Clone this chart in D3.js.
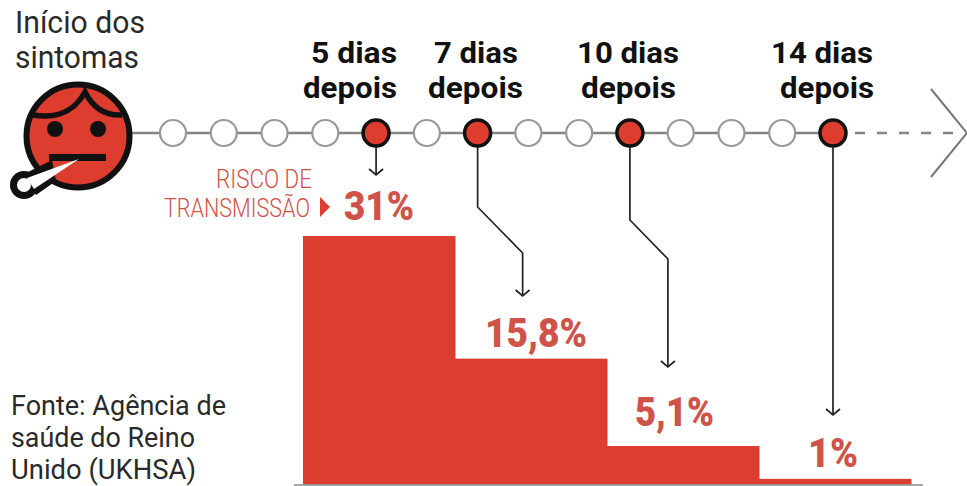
<!DOCTYPE html>
<html><head><meta charset="utf-8">
<script src="https://cdn.jsdelivr.net/npm/d3@7"></script>
<style>html,body{margin:0;background:#fff}svg{display:block}</style></head>
<body><svg id="c" width="967" height="486"></svg>
<script>
const allDays = [1,2,3,4,5,6,7,8,9,10,11,12,13,14];
const keyDays = [5,7,10,14];
const dayLabels = ["5 dias","7 dias","10 dias","14 dias"];
const riskLabels = ["31%","15,8%","5,1%","1%"];
const barValues = [31,15.7,4.8,0.7];
const sourceLines = ["Fonte: Agência de","saúde do Reino","Unido (UKHSA)"];
const red="#dc3d2f", ink="#111", grey="#858585", txtRed="#cf5348";
const svg=d3.select("#c");
const x=d3.scaleLinear().domain([1,14]).range([173,833]);
const yT=133;
const bx=d3.scaleBand().domain(keyDays).range([303,911]);
const y=d3.scaleLinear().domain([0,31]).range([484.5,236]);

function txt(s,px,py,size,weight,fill,len){
  const t=svg.append("text").attr("x",px).attr("y",py).attr("font-size",size).attr("font-weight",weight)
   .attr("fill",fill).attr("font-family","Roboto, sans-serif").text(s);
  if(len){t.attr("textLength",len).attr("lengthAdjust","spacingAndGlyphs");}
  return t;
}
// bars
svg.selectAll("rect.bar").data(keyDays).join("rect").attr("class","bar")
 .attr("x",d=>bx(d)).attr("width",bx.bandwidth()+.5)
 .attr("y",(d,i)=>y(barValues[i])).attr("height",(d,i)=>y(0)-y(barValues[i])).attr("fill",red);
svg.append("line").attr("x1",294).attr("x2",923).attr("y1",485).attr("y2",485).attr("stroke","#8a8a8a").attr("stroke-width",1.5);

// timeline
svg.append("line").attr("x1",125).attr("x2",x(14)).attr("y1",yT).attr("y2",yT).attr("stroke",grey).attr("stroke-width",2.5);
svg.append("line").attr("x1",855).attr("x2",960).attr("y1",yT).attr("y2",yT).attr("stroke",grey).attr("stroke-width",2.5).attr("stroke-dasharray","10 12");
svg.append("path").attr("d","M931,89L967,133L931,177").attr("fill","none").attr("stroke","#777").attr("stroke-width",2);
svg.selectAll("circle.day").data(allDays).join("circle").attr("class","day")
 .attr("cx",d=>x(d)).attr("cy",yT)
 .attr("r",13)
 .attr("fill",d=>keyDays.includes(d)?red:"#fff")
 .attr("stroke",d=>keyDays.includes(d)?ink:"#999")
 .attr("stroke-width",d=>keyDays.includes(d)?3.5:2.2);

// leaders
const L=[[0,147,0,175],[0,147,0,207,45,253,45,296],[0,147,0,220,38,259,38,367],[0,147,0,415]];
keyDays.forEach((d,i)=>{
  const p=L[i], X=x(d), pts=[];
  for(let k=0;k<p.length;k+=2)pts.push([X+p[k],p[k+1]]);
  svg.append("path").attr("d",d3.line()(pts)).attr("fill","none").attr("stroke","#222").attr("stroke-width",1.7);
  const e=pts[pts.length-1];
  svg.append("path").attr("d",d3.line()([[e[0]-7,e[1]-6],e,[e[0]+7,e[1]-6]])).attr("fill","none").attr("stroke","#222").attr("stroke-width",1.7);
});

// day labels
const lx=[[311,86],[434,84],[577,102],[771,102]];
const lx2=[[303,94],[428,95],[581,95],[780,94]];
dayLabels.forEach((s,i)=>{
  txt(s,lx[i][0],62.5,30,700,"#111",lx[i][1]);
  txt("depois",lx2[i][0],98,30,700,"#111",lx2[i][1]);
});
txt("Início dos",15,32.5,31,400,"#2a2a2a",130);
txt("sintomas",15,68,31,400,"#2a2a2a",124);
// risk
txt("RISCO DE",216,188,25,300,txtRed,96);
txt("TRANSMISSÃO",164,217,25,300,txtRed,146);
svg.append("path").attr("d",d3.line()([[320,197],[320,217],[330,207]])).attr("fill",red);
const pctPos=[[344,220,70],[485,347,102],[635,426,79],[808,467,50]];
riskLabels.forEach((s,i)=>{
  txt(s,pctPos[i][0],pctPos[i][1],41,900,txtRed,pctPos[i][2]);
});
// source
const sl=[215,184,185], sy=[415,447,479];
sourceLines.forEach((s,i)=>txt(s,11,sy[i],27,400,"#2a2a2a",sl[i]));

// face
const f=svg.append("g");
f.append("circle").attr("cx",78).attr("cy",136).attr("r",51.5).attr("fill",red).attr("stroke",ink).attr("stroke-width",6);
f.append("path").attr("d","M33,115 C50,118 72,116 85,92 C92,106 104,116 122,115").attr("fill","none").attr("stroke",ink).attr("stroke-width",5.5);
f.append("circle").attr("cx",55).attr("cy",129).attr("r",8).attr("fill",ink);
f.append("circle").attr("cx",98).attr("cy",129).attr("r",8).attr("fill",ink);
f.append("path").attr("d","M49,161V154H106V161Z").attr("fill",ink);
// thermometer
f.append("circle").attr("cx",24).attr("cy",185).attr("r",14).attr("fill",ink);
f.append("path").attr("d","M22,175L52,160L56,181L36,195Z").attr("fill",ink);
f.append("path").attr("d","M27,178L79,159L34,189Z").attr("fill","#fff");
f.append("circle").attr("cx",24).attr("cy",185).attr("r",7).attr("fill","#fff");
</script></body></html>
